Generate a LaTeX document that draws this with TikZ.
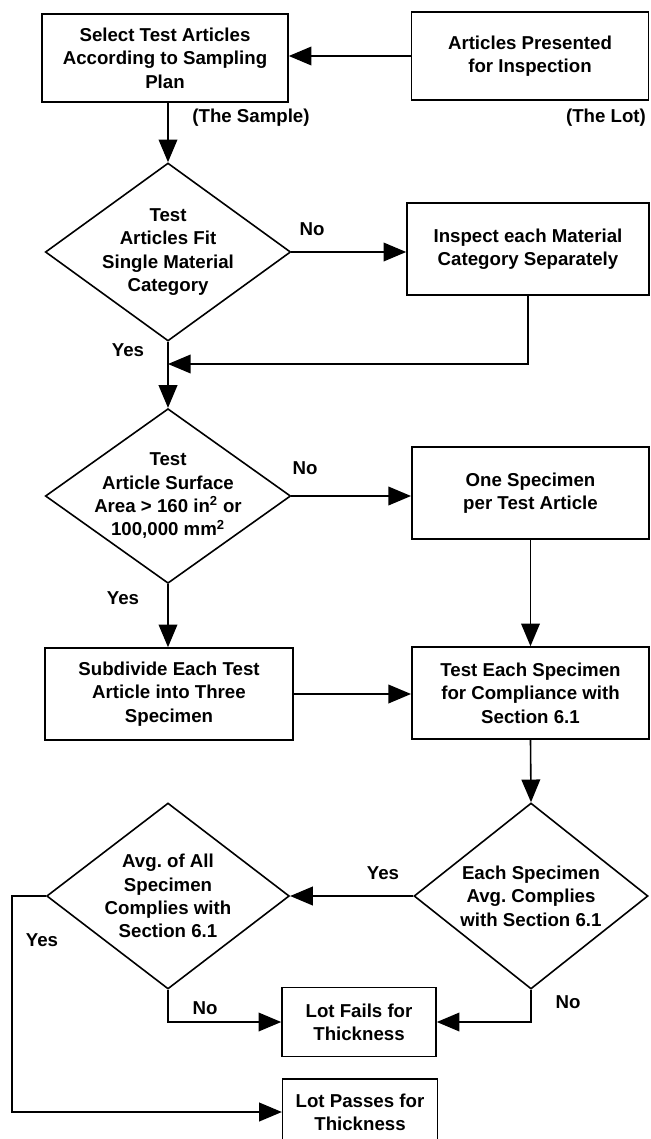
\documentclass[tikz,border=0pt]{standalone}
\usepackage{fontspec}
\setmainfont{Liberation Sans}
\usetikzlibrary{shapes.geometric,arrows.meta}
\frenchspacing

\tikzset{every picture/.style={line width=1.2pt},
	flowbox/.style={draw, rectangle, align=center, inner sep=0.75pt, font=\fontsize{14}{17.5}\selectfont\bfseries},
	decide/.style={draw, diamond, align=center, inner sep=-30pt, font=\fontsize{14}{17.5}\selectfont\bfseries},
	lbl/.style={inner sep=0.75pt, font=\fontsize{14}{17.5}\selectfont\bfseries},
	flow/.style={-{Triangle[length=17pt,width=14pt]}}}

\begin{document}
\begin{tikzpicture}[x=0.75pt,y=0.75pt,yscale=-1,xscale=1]
	\useasboundingbox (0,0) rectangle (650,1139);
	
	%Shape: Rectangle
	\node[flowbox, minimum width=184.5pt, minimum height=66pt] (select) at (165,58) {Select Test Articles\\According to Sampling\\Plan};
	\node[flowbox, minimum width=178pt, minimum height=66pt] (lot) at (530,56) {Articles Presented\\for Inspection};
	%Shape: Diamond
	\node[decide, minimum width=184pt, minimum height=133.5pt] (fitcat) at (168,252) {Test\\Articles Fit\\Single Material\\Category};
	\node[flowbox, minimum width=181.5pt, minimum height=69pt] (inspect) at (528,249) {Inspect each Material\\Category Separately};
	\coordinate (merge) at (168,364);
	%Shape: Diamond
	\node[decide, minimum width=184pt, minimum height=131pt] (surface) at (168,496) {Test\\Article Surface\\Area > 160 in\textsuperscript{2} or\\100,000 mm\textsuperscript{2}};
	\node[flowbox, minimum width=178pt, minimum height=69pt] (onespec) at (530.5,493) {One Specimen\\per Test Article};
	\node[flowbox, minimum width=186pt, minimum height=69pt] (subdiv) at (169,694) {Subdivide Each Test\\Article into Three\\Specimen};
	\node[flowbox, minimum width=178pt, minimum height=69pt] (testeach) at (530.5,693) {Test Each Specimen\\for Compliance with\\Section 6.1};
	%Shape: Diamond
	\node[decide, minimum width=175.5pt, minimum height=139.5pt] (eachavg) at (531,896) {Each Specimen\\Avg. Complies\\with Section 6.1};
	\node[decide, minimum width=182pt, minimum height=139.5pt] (allavg) at (168,896) {Avg. of All\\Specimen\\Complies with\\Section 6.1};
	%Shape: Rectangle
	\node[flowbox, minimum width=115.5pt, minimum height=52pt] (fails) at (359,1022) {Lot Fails for\\Thickness};
	\node[flowbox, minimum width=116pt, minimum height=49.5pt] (passes) at (360,1112) {Lot Passes for\\Thickness};
	\coordinate (loopleft) at (12,1112);
	
	%Straight Lines
	\draw[flow] (lot.west) -- (lot.west -| select.east);
	\draw[flow] (select.south -| fitcat.north) -- (fitcat.north);
	\draw[flow] (fitcat.east) -- (fitcat.east -| inspect.west);
	\draw[flow] (inspect.south) |- (merge);
	\draw[flow] (fitcat.south) -- (surface.north);
	\draw[flow] (surface.east) -- (surface.east -| onespec.west);
	\draw[flow] (onespec.south) -- (testeach.north);
	\draw[flow] (surface.south) -- (surface.south |- subdiv.north);
	\draw[flow] (subdiv.east) -- (subdiv.east -| testeach.west);
	\draw[flow] (testeach.south) -- (eachavg.north);
	\draw[flow] (eachavg.west) -- (allavg.east);
	\draw[flow] (eachavg.south) |- (fails.east);
	\draw[flow] (allavg.south) |- (fails.west);
	\draw[flow] (allavg.west) -| (loopleft) -- (passes.west);
	
	\node[lbl] (sample) at (251,118) {(The Sample)};
	\node[lbl] (thelot) at (606,118) {(The Lot)};
	\node[lbl] (no1) at (312,229) {No};
	\node[lbl] (yes1) at (128,350) {Yes};
	\node[lbl] (no2) at (305,468) {No};
	\node[lbl] (yes2) at (123,598) {Yes};
	\node[lbl] (yes3) at (383,873) {Yes};
	\node[lbl] (yes4) at (42,940) {Yes};
	\node[lbl] (no3) at (205,1008) {No};
	\node[lbl] (no4) at (568,1002) {No};
	
\end{tikzpicture}
\end{document}
